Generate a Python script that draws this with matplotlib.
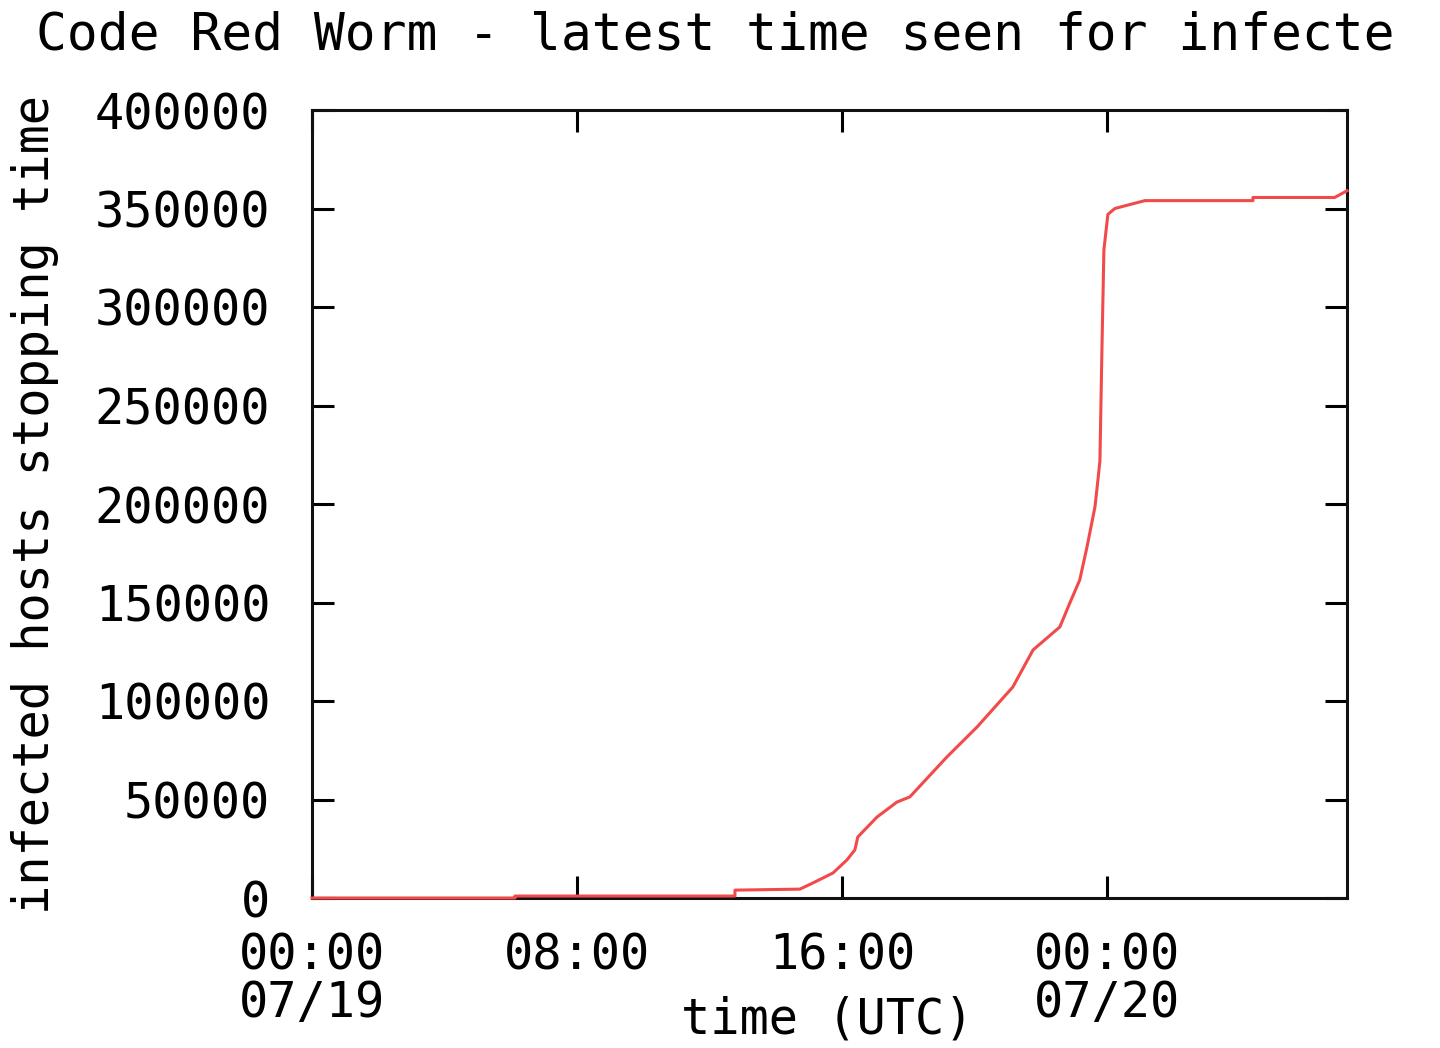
import matplotlib
matplotlib.use("Agg")
import matplotlib.pyplot as plt

plt.rcParams['font.family'] = 'DejaVu Sans Mono'

# hours since 07/19 00:00 UTC and cumulative infected hosts
hours = [0, 6.13, 6.13, 12.77, 12.77, 14.73, 15.12, 15.73, 16.15, 16.39, 16.48,
         17.06, 17.66, 18.05, 19.17, 20.08, 21.16, 21.77, 22.58, 22.88, 23.18,
         23.40, 23.64, 23.73, 23.79, 23.85, 23.91, 24.03, 24.24, 24.69, 25.15,
         28.41, 28.41, 30.88, 31.25]
hosts = [0, 0, 1000, 1000, 4000, 4500, 7600, 12700, 19300, 24400, 31000,
         41100, 48700, 51300, 71600, 86800, 107100, 125900, 137600, 149700, 161400,
         178200, 198500, 212200, 222000, 278000, 329000, 347000, 350000, 352000, 354000,
         354000, 355600, 355600, 359000]

xtick_pos = [0, 8, 16, 24]
xtick_labels = ["00:00\n07/19", "08:00", "16:00", "00:00\n07/20"]
ytick_pos = [0, 50000, 100000, 150000, 200000, 250000, 300000, 350000, 400000]

fs = 35
fig = plt.figure(figsize=(14.4, 10.48), dpi=100)
ax = fig.add_axes([312/1440, 1-898/1048, (1347-312)/1440, (898-110)/1048])

ax.plot(hours, hosts, color='#f24a4a', lw=2.2, clip_on=False, zorder=3)

ax.set_xlim(0, 31.25)
ax.set_ylim(0, 400000)
ax.set_xticks(xtick_pos)
ax.set_xticklabels(xtick_labels, fontsize=fs, linespacing=1.0, ha='center', va='top')
ax.set_yticks(ytick_pos)
ax.set_yticklabels([str(v) for v in ytick_pos], fontsize=fs)
ax.tick_params(axis='both', direction='in', length=16, width=2.2,
               top=True, right=True, colors='black')
ax.tick_params(axis='x', pad=24)
ax.tick_params(axis='y', pad=30)
for sp in ax.spines.values():
    sp.set_linewidth(2.2)
    sp.set_color('#111111')

fig.text(36/1440, 1-35/1048, "Code Red Worm - latest time seen for infecte",
         fontsize=37, ha='left', va='center')
fig.text(35/1440, 1-505/1048, "infected hosts stopping time", fontsize=fs,
         rotation=90, ha='center', va='center')
fig.text(827/1440, 1-1020/1048, "time (UTC)", fontsize=fs, ha='center', va='center')

fig.savefig("out.png", dpi=100, facecolor='white')
